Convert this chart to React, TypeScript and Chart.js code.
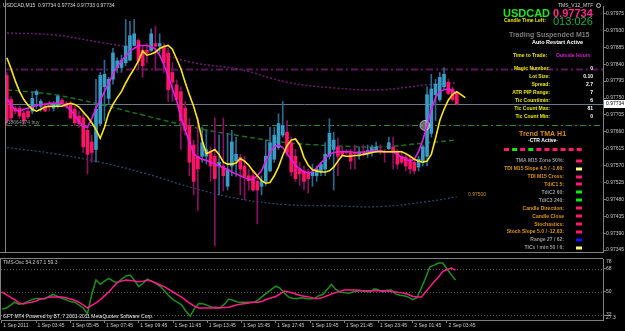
import React, { useEffect, useRef } from 'react';
import { Chart, registerables } from 'chart.js';

Chart.register(...registerables);

// ---------- DATA ----------
const TIME_LABELS = ['1 Sep 2011', '1 Sep 03:45', '1 Sep 05:45', '1 Sep 07:45', '1 Sep 09:45', '1 Sep 11:45', '1 Sep 13:45',
  '1 Sep 15:45', '1 Sep 17:45', '1 Sep 19:45', '1 Sep 21:45', '1 Sep 23:45', '2 Sep 01:45', '2 Sep 03:45'];
const BARS_PER_LABEL = 8;
const X_MIN = -0.2;
const X_MAX = 140.45;

const OPEN = [
  0.97810, 0.97746, 0.97723, 0.97723, 0.97710, 0.97715, 0.97715, 0.97759, 0.97728, 0.97728,
  0.97728, 0.97723, 0.97728, 0.97744, 0.97736, 0.97733, 0.97720, 0.97702, 0.97697, 0.97664,
  0.97633, 0.97613, 0.97682, 0.97780, 0.97749, 0.97800, 0.97831, 0.97831, 0.97844, 0.97851,
  0.97890, 0.97903, 0.97877, 0.97877, 0.97877, 0.97895, 0.97888, 0.97888, 0.97870, 0.97818,
  0.97785, 0.97767, 0.97723, 0.97677, 0.97625, 0.97595, 0.97595, 0.97595, 0.97605, 0.97595,
  0.97569, 0.97569, 0.97515, 0.97569, 0.97582, 0.97592, 0.97569, 0.97543, 0.97543, 0.97528,
  0.97515, 0.97528, 0.97556, 0.97587, 0.97618, 0.97651, 0.97659, 0.97631, 0.97595, 0.97561,
  0.97556, 0.97553, 0.97543, 0.97543, 0.97553, 0.97561, 0.97595, 0.97613, 0.97620, 0.97607,
  0.97607, 0.97605, 0.97605, 0.97600, 0.97607, 0.97605, 0.97605, 0.97607, 0.97610, 0.97607,
  0.97615, 0.97620, 0.97607, 0.97595, 0.97592, 0.97587, 0.97579, 0.97566, 0.97579, 0.97595,
  0.97656, 0.97759, 0.97746, 0.97780, 0.97792, 0.97774, 0.97762];
const HIGH = [
  0.97818, 0.97754, 0.97728, 0.97728, 0.97715, 0.97720, 0.97767, 0.97772, 0.97746, 0.97736,
  0.97741, 0.97741, 0.97759, 0.97749, 0.97741, 0.97741, 0.97728, 0.97715, 0.97710, 0.97677,
  0.97651, 0.97800, 0.97818, 0.97851, 0.97805, 0.97882, 0.97857, 0.97864, 0.97959, 0.97954,
  0.97959, 0.97908, 0.97890, 0.97895, 0.97934, 0.97941, 0.97921, 0.97895, 0.97882, 0.97844,
  0.97798, 0.97780, 0.97741, 0.97695, 0.97638, 0.97697, 0.97672, 0.97664, 0.97620, 0.97697,
  0.97651, 0.97697, 0.97656, 0.97664, 0.97646, 0.97600, 0.97595, 0.97561, 0.97553, 0.97543,
  0.97543, 0.97638, 0.97672, 0.97672, 0.97708, 0.97741, 0.97690, 0.97646, 0.97613, 0.97579,
  0.97569, 0.97561, 0.97574, 0.97569, 0.97579, 0.97631, 0.97695, 0.97659, 0.97643, 0.97620,
  0.97613, 0.97613, 0.97625, 0.97620, 0.97625, 0.97625, 0.97625, 0.97633, 0.97625, 0.97613,
  0.97646, 0.97646, 0.97613, 0.97605, 0.97600, 0.97595, 0.97587, 0.97595, 0.97625, 0.97780,
  0.97813, 0.97800, 0.97818, 0.97831, 0.97800, 0.97780, 0.97767];
const LOW = [
  0.97677, 0.97690, 0.97708, 0.97695, 0.97677, 0.97695, 0.97708, 0.97723, 0.97715, 0.97715,
  0.97715, 0.97715, 0.97723, 0.97728, 0.97723, 0.97695, 0.97677, 0.97672, 0.97605, 0.97548,
  0.97579, 0.97579, 0.97677, 0.97690, 0.97733, 0.97787, 0.97818, 0.97818, 0.97836, 0.97849,
  0.97888, 0.97826, 0.97805, 0.97844, 0.97875, 0.97823, 0.97870, 0.97818, 0.97741, 0.97741,
  0.97741, 0.97613, 0.97651, 0.97543, 0.97492, 0.97451, 0.97579, 0.97574, 0.97528, 0.97356,
  0.97492, 0.97502, 0.97505, 0.97543, 0.97541, 0.97492, 0.97479, 0.97505, 0.97502, 0.97415,
  0.97492, 0.97517, 0.97553, 0.97579, 0.97613, 0.97646, 0.97595, 0.97543, 0.97528, 0.97517,
  0.97505, 0.97497, 0.97515, 0.97528, 0.97543, 0.97543, 0.97587, 0.97505, 0.97543, 0.97595,
  0.97600, 0.97561, 0.97561, 0.97587, 0.97595, 0.97592, 0.97595, 0.97605, 0.97600, 0.97579,
  0.97613, 0.97561, 0.97561, 0.97574, 0.97556, 0.97548, 0.97548, 0.97556, 0.97569, 0.97569,
  0.97646, 0.97690, 0.97741, 0.97772, 0.97759, 0.97741, 0.97733];
const CLOSE = [
  0.97690, 0.97697, 0.97715, 0.97702, 0.97690, 0.97700, 0.97749, 0.97767, 0.97741, 0.97715,
  0.97726, 0.97733, 0.97754, 0.97736, 0.97728, 0.97697, 0.97684, 0.97682, 0.97620, 0.97600,
  0.97605, 0.97720, 0.97810, 0.97813, 0.97800, 0.97870, 0.97849, 0.97851, 0.97888, 0.97916,
  0.97921, 0.97849, 0.97836, 0.97870, 0.97921, 0.97888, 0.97895, 0.97844, 0.97772, 0.97792,
  0.97746, 0.97690, 0.97664, 0.97579, 0.97528, 0.97561, 0.97631, 0.97613, 0.97569, 0.97535,
  0.97579, 0.97543, 0.97561, 0.97633, 0.97600, 0.97561, 0.97541, 0.97530, 0.97505, 0.97505,
  0.97528, 0.97595, 0.97631, 0.97651, 0.97682, 0.97677, 0.97605, 0.97553, 0.97535, 0.97548,
  0.97528, 0.97535, 0.97553, 0.97561, 0.97574, 0.97600, 0.97656, 0.97638, 0.97595, 0.97600,
  0.97605, 0.97582, 0.97602, 0.97607, 0.97605, 0.97610, 0.97618, 0.97620, 0.97607, 0.97605,
  0.97631, 0.97605, 0.97574, 0.97579, 0.97569, 0.97561, 0.97556, 0.97587, 0.97620, 0.97759,
  0.97774, 0.97787, 0.97805, 0.97813, 0.97762, 0.97746, 0.97734];

const TMA_CENTER = [
  0.97749, 0.97731, 0.97718, 0.97715, 0.97720, 0.97723, 0.97726, 0.97731, 0.97733, 0.97733,
  0.97736, 0.97736, 0.97736, 0.97736, 0.97728, 0.97718, 0.97705, 0.97687, 0.97674, 0.97672,
  0.97695, 0.97723, 0.97744, 0.97767, 0.97790, 0.97813, 0.97834, 0.97849, 0.97862, 0.97875,
  0.97882, 0.97890, 0.97890, 0.97890, 0.97887, 0.97880, 0.97864, 0.97839, 0.97808, 0.97774,
  0.97744, 0.97697, 0.97666, 0.97633, 0.97602, 0.97592, 0.97587, 0.97584, 0.97579, 0.97574,
  0.97569, 0.97564, 0.97559, 0.97553, 0.97548, 0.97543, 0.97538, 0.97533, 0.97533, 0.97543,
  0.97556, 0.97582, 0.97605, 0.97620, 0.97625, 0.97618, 0.97602, 0.97587, 0.97571, 0.97561,
  0.97553, 0.97551, 0.97553, 0.97564, 0.97577, 0.97589, 0.97600, 0.97605, 0.97607, 0.97607,
  0.97607, 0.97607, 0.97605, 0.97605, 0.97605, 0.97607, 0.97610, 0.97610, 0.97610, 0.97607,
  0.97607, 0.97607, 0.97600, 0.97592, 0.97587, 0.97582, 0.97587, 0.97607, 0.97638, 0.97677,
  0.97720, 0.97751, 0.97767, 0.97772, 0.97774, 0.97769, 0.97762];
const SIGNAL_LINE = [
  0.97857, 0.97828, 0.97795, 0.97767, 0.97746, 0.97731, 0.97720, 0.97715, 0.97720, 0.97726,
  0.97728, 0.97728, 0.97728, 0.97728, 0.97733, 0.97736, 0.97733, 0.97726, 0.97713, 0.97700,
  0.97684, 0.97666, 0.97643, 0.97672, 0.97710, 0.97733, 0.97751, 0.97767, 0.97790, 0.97810,
  0.97828, 0.97849, 0.97875, 0.97864, 0.97867, 0.97872, 0.97882, 0.97887, 0.97890, 0.97880,
  0.97854, 0.97828, 0.97792, 0.97759, 0.97728, 0.97690, 0.97638, 0.97602, 0.97607, 0.97613,
  0.97600, 0.97579, 0.97574, 0.97574, 0.97577, 0.97589, 0.97582, 0.97571, 0.97556, 0.97543,
  0.97530, 0.97523, 0.97525, 0.97543, 0.97566, 0.97597, 0.97623, 0.97638, 0.97641, 0.97625,
  0.97592, 0.97571, 0.97559, 0.97556, 0.97553, 0.97553, 0.97556, 0.97566, 0.97582, 0.97597,
  0.97595, 0.97595, 0.97597, 0.97597, 0.97600, 0.97602, 0.97605, 0.97607, 0.97607, 0.97607,
  0.97607, 0.97607, 0.97607, 0.97607, 0.97602, 0.97595, 0.97587, 0.97582, 0.97579, 0.97582,
  0.97600, 0.97643, 0.97690, 0.97720, 0.97744, 0.97759, 0.97767, 0.97759, 0.97751];

const BAND_IDX = [0, 11, 22, 33, 44, 55, 66, 77, 88, 99, 106];
const UPPER_BAND = [0.97923, 0.97918, 0.97898, 0.97877, 0.97844, 0.97826, 0.97792, 0.97777, 0.97772, 0.97785, 0.97790];
const MID_BAND = [0.97772, 0.97759, 0.97733, 0.97702, 0.97672, 0.97649, 0.97631, 0.97623, 0.97620, 0.97631, 0.97638];
const LOWER_BAND = [0.97618, 0.97602, 0.97579, 0.97548, 0.97510, 0.97481, 0.97466, 0.97463, 0.97461, 0.97474, 0.97487];

const PRICE_TICKS = [0.97345, 0.97390, 0.97435, 0.97480, 0.97525, 0.97570, 0.97615, 0.97660,
  0.97705, 0.97750, 0.97795, 0.97840, 0.97885, 0.97930, 0.97975];
const Y_MIN = 0.97340;
const Y_MAX = 0.97995;

const RESIST_LEVEL = 0.97826;
const ORDER_PRICE = 0.97677;
const ORDER_LABEL = '#18664974 buy';
const BID_PRICE = 0.97734;
const TARGET_PRICE = 0.97500;
const MARKER_X = 98.5;
const MARKER_Y = 0.97677;

const OSC_PINK = [
  50, 48, 46, 44, 41.5, 40.6, 41.5, 42, 43, 44.5,
  45, 46, 46, 46, 46, 45.5, 44.5, 43.5, 42, 40,
  37.5, 39.5, 41.5, 44, 47, 50, 54, 57.5, 58.5, 59.4,
  59, 58.5, 58, 58.5, 59.2, 58.5, 57, 55.5, 54, 52,
  50, 48, 46, 43.5, 41, 39, 37.5, 37.5, 37.5, 37.5,
  37.5, 37.7, 37.9, 38, 39, 40, 40.6, 41, 41.5, 42,
  42, 43, 44.5, 45.5, 46.5, 48.5, 50.8, 50, 49.2, 48,
  47, 46.5, 46, 45, 45, 45.8, 47, 48.5, 49.5, 50.5,
  51.5, 51.5, 51.5, 51.5, 51.2, 51, 51, 51, 51, 51,
  50.7, 50.3, 50, 49.5, 49, 48, 46.5, 46, 46, 50,
  54, 58, 61.5, 66, 67.5, 68.8, 67.1];
const OSC_GREEN = [
  36.7, 37.3, 39.5, 42, 40.5, 41, 42.5, 44, 45, 45,
  44.5, 46.5, 48.2, 46.5, 45, 44, 42.5, 42, 40, 37.5,
  33, 48, 59.4, 56, 58.5, 60.7, 58.5, 57.2, 60, 62.5,
  63.2, 59, 54.2, 57, 60, 58.5, 56.5, 54.5, 51, 47,
  44, 42, 40, 35, 31, 37, 41, 40.8, 39.5, 38.3,
  38, 37.5, 40.5, 44.5, 43.5, 42.2, 42, 42, 42, 42,
  44, 47, 49.5, 52, 54.5, 53, 49, 46, 45, 45,
  45.5, 45, 44.5, 45, 47, 48, 52, 56, 52, 50,
  49.5, 49, 50, 50.7, 50.7, 50.3, 50, 52.5, 51.5, 50,
  51.3, 51.5, 48.5, 47.5, 47, 46, 44, 45.5, 53, 61,
  69.6, 71, 72.7, 72.7, 68, 63.5, 59.3];
const OSC_TICKS = [68, 50, 32];
const OSC_LEVELS = [68, 50, 32];
const OSC_MIN = 28.1;
const OSC_MAX = 75.8;
const OSC_RANGE_TEXT = ['78', '27.3'];
const OSC_TITLE = 'TMS-Osc 54.2 67.1 59.3';

const CHART_TITLE = 'USDCAD,M15  0.97734 0.97734 0.97733 0.97734';
const FOOTER = 'GFT MT4 Powered by BT, 7 2001-2011 MetaQuotes Software Corp.';

const INFO_LABELS = ['Magic Number:', 'Lot Size:', 'Spread:', 'ATR PIP Range:', 'Tic Count/min:', 'Tic Count Max:', 'Tic Count Min:'];
const INFO_VALUES = ['0', '0.10', '2.7', '7', '6', '81', '0'];

const TREND_LABELS = ['TMA M15 Zone 50%:', 'TDI M15 Slope 4.5 / -1.60:', 'TDI M15 Cross:', 'TdiC1 5:', 'TdiC2 60:', 'TdiC3 240:',
  'Candle Direction:', 'Candle Close', 'Stochastics:', 'Stoch Slope 5.0 / -12.63:', 'Range 27 / 62:', 'TICs / min 50 / 6:'];
const TREND_TONES = ['gray', 'orange', 'orange', 'orange', 'gray', 'gray', 'orange', 'orange', 'orange', 'orange', 'gray', 'gray'];
const TREND_SIGNALS = ['pink', 'yellow', 'pink', 'pink', 'green', 'green', 'pink', 'pink', 'pink', 'pink', 'blue', 'yellow'];
const TREND_STRIP = ['pink', 'green', 'pink', 'green', 'pink', 'pink', 'pink', 'pink', 'pink', 'pink'];

// ---------- STYLE ----------
const FONT = '"Liberation Sans", Arial, sans-serif';
const UP_BODY = '#3a9cc6';
const DOWN_BODY = '#ff1468';
const UP_WICK = '#2a6b92';
const DOWN_WICK = '#861262';
const SIGNAL_COLORS: Record<string, string> = { pink: '#ff1a6e', green: '#14e614', yellow: '#ffff7a', blue: '#1414ff' };
const TONE_COLORS: Record<string, string> = { gray: '#9a9a9a', orange: '#e0960e' };
const AXIS_GRAY = '#808080';
const LABEL_GRAY = '#c8c8c8';

function txt(ctx: any, s: string, x: number, y: number, color: string, size: number, bold = false, align = 'left') {
  ctx.font = `${bold ? 'bold ' : ''}${size}px ${FONT}`;
  ctx.fillStyle = color;
  ctx.textAlign = align;
  ctx.textBaseline = 'middle';
  ctx.fillText(s, x, y);
}

const xy = (arr: number[]) => arr.map((v, i) => ({ x: i, y: v }));

const blackBg = {
  id: 'blackBg',
  beforeDraw(chart: any) {
    const { ctx, width, height } = chart;
    ctx.save();
    ctx.fillStyle = '#000';
    ctx.fillRect(0, 0, width, height);
    ctx.restore();
  },
};

const mainDecor = {
  id: 'mainDecor',
  beforeDatasetsDraw(chart: any) {
    const { ctx, chartArea: a, scales } = chart;
    const y = scales.y;
    const hline = (price: number, color: string, w: number, dash: number[]) => {
      const py = Math.round(y.getPixelForValue(price)) + 0.5;
      ctx.save();
      ctx.strokeStyle = color;
      ctx.lineWidth = w;
      ctx.setLineDash(dash);
      ctx.beginPath();
      ctx.moveTo(a.left, py);
      ctx.lineTo(a.right, py);
      ctx.stroke();
      ctx.restore();
    };
    hline(RESIST_LEVEL, '#5e1660', 2, [7, 3, 2, 3]);
    hline(ORDER_PRICE, '#2b8a2b', 1, [6, 3, 2, 3]);
    hline(BID_PRICE, '#6c7c84', 1, []);
  },
  afterDraw(chart: any) {
    const { ctx, chartArea: a, scales } = chart;
    const y = scales.y;
    ctx.save();
    // frame
    ctx.strokeStyle = AXIS_GRAY;
    ctx.lineWidth = 1;
    ctx.beginPath();
    ctx.moveTo(a.left - 0.5, 0);
    ctx.lineTo(a.left - 0.5, a.bottom + 1);
    ctx.moveTo(0, a.bottom + 0.5);
    ctx.lineTo(a.right, a.bottom + 0.5);
    ctx.stroke();

    txt(ctx, CHART_TITLE, 3, 5.5, '#d8d8d8', 5);
    txt(ctx, ORDER_LABEL, 5, y.getPixelForValue(ORDER_PRICE) - 3, '#9a9a9a', 5);
    txt(ctx, TARGET_PRICE.toFixed(5), 468, y.getPixelForValue(TARGET_PRICE) + 3, '#c8961e', 5);

    // info panel
    txt(ctx, 'TMS_V12_MTF', 558, 5.5, '#d0d0d0', 5);
    ctx.strokeStyle = '#c0c0c0';
    ctx.beginPath();
    ctx.arc(598.5, 5.5, 2, 0, Math.PI * 2);
    ctx.stroke();
    txt(ctx, 'USDCAD', 503, 14, '#1ee61e', 11, true);
    txt(ctx, BID_PRICE.toFixed(5), 553, 14, '#ff2a8a', 11, true);
    txt(ctx, 'Candle Time Left:', 504, 20.8, '#e6e600', 5, true);
    txt(ctx, '013:026', 553, 21.8, '#16b23c', 11);
    txt(ctx, 'Trading Suspended M15', 509, 35, '#7c7c7c', 7, true);
    txt(ctx, 'Auto Restart Active', 532, 42.3, '#ffffff', 5.5, true);
    txt(ctx, 'Time to Trade:', 513, 56, '#e6e600', 5, true);
    txt(ctx, 'Outside Hours', 556, 56, '#d41ed4', 5, true);
    INFO_LABELS.forEach((l, k) => {
      txt(ctx, l, 550, 69 + k * 8, '#e6e600', 5, true, 'right');
      txt(ctx, INFO_VALUES[k], 593, 69 + k * 8, '#ffffff', 5, true, 'right');
    });
    txt(ctx, 'Trend TMA H1', 519, 134, '#d88c1c', 7, true);
    txt(ctx, '-CTR Active-', 528, 141, '#ffffff', 5, true);
    TREND_STRIP.forEach((c, k) => {
      ctx.fillStyle = SIGNAL_COLORS[c];
      ctx.fillRect(504 + k * 8.08, 148, 5, 3);
    });
    TREND_LABELS.forEach((l, k) => {
      const ry = 160.7 + k * 7.93;
      txt(ctx, l, 564, ry, TONE_COLORS[TREND_TONES[k]], 5, true, 'right');
      ctx.fillStyle = SIGNAL_COLORS[TREND_SIGNALS[k]];
      ctx.fillRect(576, Math.round(ry) - 1.5, 6, 3);
    });

    // bid price box on the axis
    const by = y.getPixelForValue(BID_PRICE);
    ctx.fillStyle = '#ffffff';
    ctx.fillRect(a.right + 1, Math.round(by) - 4, 24, 8);
    txt(ctx, BID_PRICE.toFixed(5), a.right + 3, by, '#000000', 5);
    ctx.restore();
  },
};

const oscDecor = {
  id: 'oscDecor',
  beforeDatasetsDraw(chart: any) {
    const { ctx, chartArea: a, scales } = chart;
    ctx.save();
    ctx.strokeStyle = '#5c5c5c';
    ctx.lineWidth = 1;
    ctx.setLineDash([1, 2]);
    OSC_LEVELS.forEach((lv) => {
      const py = Math.round(scales.y.getPixelForValue(lv)) + 0.5;
      ctx.beginPath();
      ctx.moveTo(a.left, py);
      ctx.lineTo(a.right, py);
      ctx.stroke();
    });
    ctx.restore();
  },
  afterDraw(chart: any) {
    const { ctx, chartArea: a } = chart;
    ctx.save();
    ctx.strokeStyle = AXIS_GRAY;
    ctx.lineWidth = 1;
    ctx.beginPath();
    ctx.moveTo(0, a.top - 0.5);
    ctx.lineTo(a.right, a.top - 0.5);
    ctx.moveTo(a.left - 0.5, a.top - 0.5);
    ctx.lineTo(a.left - 0.5, a.bottom);
    ctx.stroke();
    txt(ctx, OSC_TITLE, 3, 5, '#c8c8c8', 5);
    txt(ctx, FOOTER, 3, 59, '#e8e8e8', 5);
    txt(ctx, OSC_RANGE_TEXT[0], a.right + 3, 4, LABEL_GRAY, 5);
    txt(ctx, OSC_RANGE_TEXT[1], a.right + 3, 60, LABEL_GRAY, 5);
    ctx.restore();
  },
};

function fixWidth(s: any) {
  s.width = 22;
  s.paddingTop = 0;
  s.paddingBottom = 0;
}

export default function App() {
  const mainRef = useRef<HTMLCanvasElement>(null);
  const oscRef = useRef<HTMLCanvasElement>(null);

  useEffect(() => {
    const isUp = (i: number) => CLOSE[i] >= OPEN[i];
    const main = new Chart(mainRef.current as any, {
      type: 'bar',
      data: {
        datasets: [
          { type: 'line', data: xy(SIGNAL_LINE), borderColor: '#ffe61a', borderWidth: 1.6, pointRadius: 0, tension: 0, order: 0 },
          { type: 'line', data: xy(TMA_CENTER), borderColor: '#e21ee6', borderWidth: 1.6, pointRadius: 0, tension: 0, order: 1 },
          {
            type: 'line', data: [{ x: MARKER_X, y: MARKER_Y }], showLine: false, pointRadius: 5,
            pointBackgroundColor: 'rgba(175,175,175,0.6)', pointBorderColor: 'rgba(225,225,225,0.7)', pointBorderWidth: 1, order: 2,
          },
          {
            type: 'bar', data: OPEN.map((o, i) => ({ x: i, y: [o, CLOSE[i]] })),
            backgroundColor: OPEN.map((_, i) => (isUp(i) ? UP_BODY : DOWN_BODY)),
            grouped: false, barThickness: 3, maxBarThickness: 3, minBarLength: 1, borderWidth: 0, order: 3,
          },
          {
            type: 'bar', data: LOW.map((l, i) => ({ x: i, y: [l, HIGH[i]] })),
            backgroundColor: OPEN.map((_, i) => (isUp(i) ? UP_WICK : DOWN_WICK)),
            grouped: false, barThickness: 1, maxBarThickness: 1, borderWidth: 0, order: 4,
          },
          { type: 'line', data: BAND_IDX.map((x, k) => ({ x, y: UPPER_BAND[k] })), borderColor: '#6e1a70', borderWidth: 1.5, borderDash: [2, 2], pointRadius: 0, tension: 0.4, order: 5 },
          { type: 'line', data: BAND_IDX.map((x, k) => ({ x, y: MID_BAND[k] })), borderColor: '#1e6e1e', borderWidth: 1.5, borderDash: [5, 3], pointRadius: 0, tension: 0.4, order: 6 },
          { type: 'line', data: BAND_IDX.map((x, k) => ({ x, y: LOWER_BAND[k] })), borderColor: '#2a4668', borderWidth: 1.3, borderDash: [2, 2], pointRadius: 0, tension: 0.4, order: 7 },
        ] as any,
      },
      options: {
        responsive: false,
        animation: false,
        events: [],
        layout: { padding: { top: 1, bottom: 2, left: 1, right: 0 } },
        plugins: { legend: { display: false }, tooltip: { enabled: false } },
        scales: {
          x: { type: 'linear', display: false, min: X_MIN, max: X_MAX, offset: false },
          y: {
            type: 'linear', position: 'right', min: Y_MIN, max: Y_MAX,
            afterBuildTicks: (s: any) => { s.ticks = PRICE_TICKS.map((v) => ({ value: v })); },
            afterFit: fixWidth,
            ticks: { autoSkip: false, color: LABEL_GRAY, padding: 0, font: { family: FONT, size: 5 }, callback: (v: any) => Number(v).toFixed(5) },
            grid: { drawOnChartArea: false, color: AXIS_GRAY, tickLength: 3 },
            border: { color: AXIS_GRAY },
          },
        },
      } as any,
      plugins: [blackBg, mainDecor],
    });

    const osc = new Chart(oscRef.current as any, {
      type: 'line',
      data: {
        datasets: [
          { data: xy(OSC_PINK), borderColor: '#ff1a8c', borderWidth: 1.5, pointRadius: 0, tension: 0, order: 0 },
          { data: xy(OSC_GREEN), borderColor: '#1f8f1f', borderWidth: 1.5, pointRadius: 0, tension: 0, order: 1 },
        ],
      },
      options: {
        responsive: false,
        animation: false,
        events: [],
        layout: { padding: { top: 1, bottom: 0, left: 1, right: 0 } },
        plugins: { legend: { display: false }, tooltip: { enabled: false } },
        scales: {
          x: {
            type: 'linear', min: X_MIN, max: X_MAX, offset: false,
            afterBuildTicks: (s: any) => { s.ticks = TIME_LABELS.map((_, k) => ({ value: k * BARS_PER_LABEL })); },
            afterFit: (s: any) => { s.height = 11; s.paddingLeft = 0; s.paddingRight = 0; },
            ticks: {
              autoSkip: false, maxRotation: 0, minRotation: 0, align: 'start', padding: 0, labelOffset: 1.5,
              color: LABEL_GRAY, font: { family: FONT, size: 5 },
              callback: (_v: any, i: number) => TIME_LABELS[i],
            },
            grid: { drawOnChartArea: false, color: AXIS_GRAY, tickLength: 3 },
            border: { color: AXIS_GRAY },
          },
          y: {
            type: 'linear', position: 'right', min: OSC_MIN, max: OSC_MAX,
            afterBuildTicks: (s: any) => { s.ticks = OSC_TICKS.map((v) => ({ value: v })); },
            afterFit: fixWidth,
            ticks: { autoSkip: false, color: LABEL_GRAY, padding: 0, font: { family: FONT, size: 5 }, callback: (v: any) => String(v) },
            grid: { drawOnChartArea: false, color: AXIS_GRAY, tickLength: 3 },
            border: { color: AXIS_GRAY },
          },
        },
      } as any,
      plugins: [blackBg, oscDecor],
    });

    return () => {
      main.destroy();
      osc.destroy();
    };
  }, []);

  return (
    <div style={{ position: 'fixed', left: 0, top: 0, width: 625, height: 331, background: '#000', overflow: 'hidden' }}>
      <canvas ref={mainRef} width={625} height={258} style={{ position: 'absolute', left: 0, top: 0 }} />
      <canvas ref={oscRef} width={625} height={73} style={{ position: 'absolute', left: 0, top: 258 }} />
    </div>
  );
}
